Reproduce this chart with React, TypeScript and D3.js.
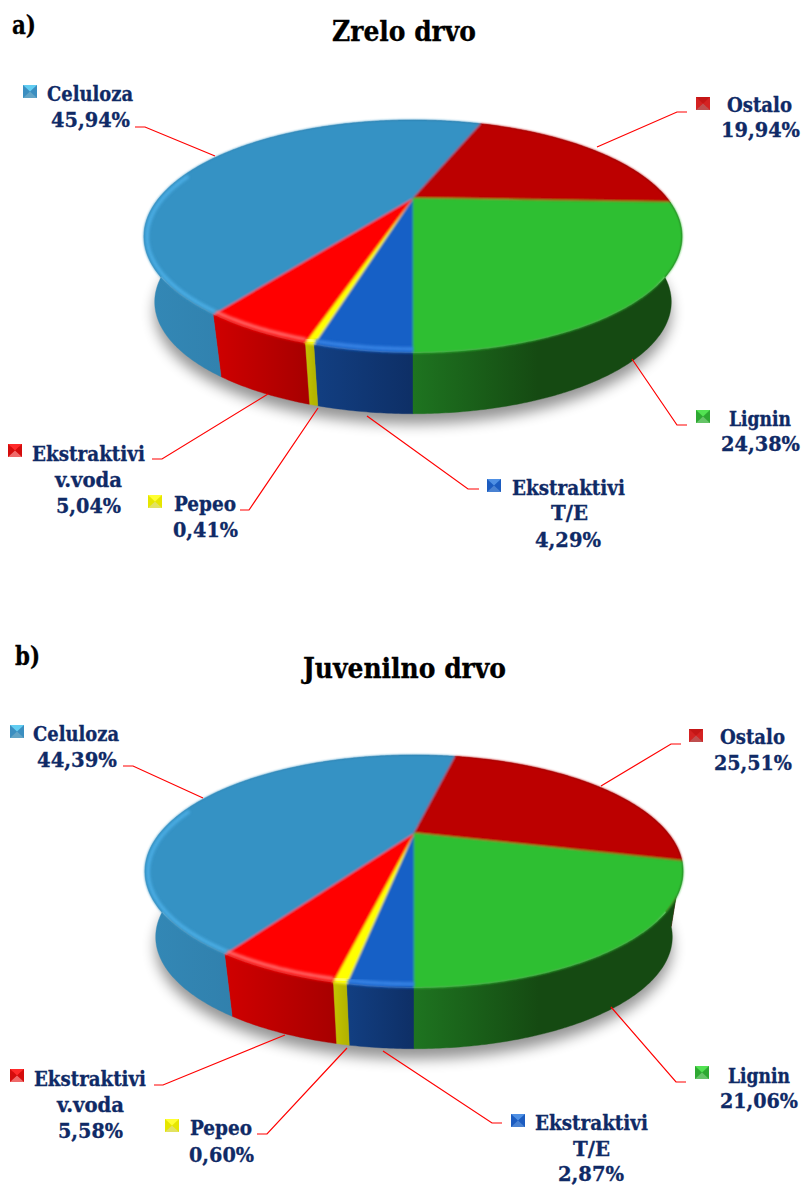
import React from "react";
import * as d3 from "d3";

// ---------- data ----------
const sliceKeys = ["te", "pepeo", "voda", "celuloza", "ostalo", "lignin"];
const sliceNames = [["Ekstraktivi", "T/E"], ["Pepeo"], ["Ekstraktivi", "v.voda"], ["Celuloza"], ["Ostalo"], ["Lignin"]];
const valuesA = [4.29, 0.41, 5.04, 45.94, 19.94, 24.38];
const valuesB = [2.87, 0.6, 5.58, 44.39, 25.51, 21.06];
const titleA = "Zrelo drvo";
const titleB = "Juvenilno drvo";

// ---------- styles ----------
const topColors = ["#1860c6", "#ffff00", "#ff0000", "#3592c4", "#bc0000", "#2fbf30"];
const wallLeft = ["#123f82", "#c4c400", "#d00000", "#3388b6", "#900000", "#1e7420"];
const wallRight = ["#0e2f66", "#b4b400", "#a80000", "#2b6d96", "#700000", "#154a12"];
const rimColors = ["#3f8cec", "#ffff90", "#ff7a7a", "#4fb2ea", "none", "none"];
const keyTop = ["#4f90e4", "#ffff30", "#ff2a2a", "#62cdf2", "#c41818", "#52e252"];
const keySide = ["#1a5cc0", "#e6e600", "#d40808", "#3a8ec0", "#d42020", "#2fa832"];
const keyBottom = ["#4a82d2", "#e2e262", "#f06a6a", "#62a4c6", "#c05050", "#66c468"];
const textColor = "#0f2a66";
const serif = "'DejaVu Serif Condensed','DejaVu Serif',serif";

// ---------- layout ----------
const proj = { K: 254, k: 103.8, p: 0.33, drop: 67, shrink: 0.04 };

type Line = [number, number, number]; // left x, baseline, width
type Lab = { key: [number, number]; lines: Line[]; leader: [number, number][] };

const layoutA: Record<string, Lab> = {
  celuloza: { key: [23, 85], lines: [[47, 101, 86], [51, 127, 79]], leader: [[135, 127], [145, 127], [215, 156]] },
  ostalo: { key: [696, 97], lines: [[727, 112, 65], [721, 137, 79]], leader: [[597, 147], [677, 112], [687, 112]] },
  lignin: { key: [696, 410], lines: [[729, 426, 62], [721, 451, 79]], leader: [[632, 359], [677, 425], [687, 425]] },
  te: { key: [487, 479], lines: [[512, 495, 113], [551, 520, 37], [535, 547, 66]], leader: [[367, 416], [468, 489], [479, 489]] },
  pepeo: { key: [148, 495], lines: [[174, 511, 62], [173, 537, 65]], leader: [[318, 408], [249, 510], [240, 510]] },
  voda: { key: [8, 444], lines: [[32, 461, 113], [55, 487, 67], [56, 513, 65]], leader: [[268, 394], [162, 459], [152, 459]] },
};
const layoutB: Record<string, Lab> = {
  celuloza: { key: [10, 725], lines: [[33, 741, 86], [37, 767, 80]], leader: [[123, 766], [133, 766], [203, 798]] },
  ostalo: { key: [689, 729], lines: [[720, 744, 65], [714, 770, 78]], leader: [[601, 786], [671, 744], [681, 744]] },
  lignin: { key: [695, 1066], lines: [[728, 1083, 62], [720, 1108, 78]], leader: [[611, 1007], [676, 1082], [686, 1082]] },
  te: { key: [511, 1114], lines: [[535, 1130, 113], [573, 1156, 37], [558, 1181, 66]], leader: [[383, 1051], [492, 1123], [502, 1123]] },
  pepeo: { key: [165, 1119], lines: [[190, 1135, 62], [189, 1162, 65]], leader: [[347, 1048], [267, 1134], [257, 1134]] },
  voda: { key: [10, 1069], lines: [[34, 1086, 112], [57, 1112, 67], [58, 1138, 65]], leader: [[285, 1035], [163, 1085], [154, 1085]] },
};

const pieGen = d3.pie<number>().sort(null).startAngle(Math.PI).endAngle(3 * Math.PI);
const lineGen = d3.line<[number, number]>().curve(d3.curveLinearClosed);

function pt(cx: number, cy: number, theta: number, t: number): [number, number] {
  const c = Math.sin(theta);
  const s = -Math.cos(theta);
  const w = 1 - proj.p * s;
  const f = 1 - proj.shrink * t;
  return [cx + (f * proj.K * c) / w, cy + proj.drop * t + (f * proj.k * s) / w];
}
function arcPts(cx: number, cy: number, a0: number, a1: number, t: number): [number, number][] {
  const n = Math.max(2, Math.ceil((a1 - a0) / 0.01));
  return d3.range(n + 1).map((i) => pt(cx, cy, a0 + ((a1 - a0) * i) / n, t));
}
const fmt = (v: number) => v.toFixed(2).replace(".", ",") + "%";

function Pie({ id, cx, cy, values, layout }: { id: string; cx: number; cy: number; values: number[]; layout: Record<string, Lab> }) {
  const slices = pieGen(values);
  const full = arcPts(cx, cy, 0, 2 * Math.PI, 0);
  const shadowPts = arcPts(cx, cy + 9, 0, 2 * Math.PI, 1.02);
  return (
    <g>
      <defs>
        <clipPath id={`${id}-top`}>
          <path d={lineGen(full)!} />
        </clipPath>
        {slices.map((s, i) => {
          const xs = arcPts(cx, cy, s.startAngle, s.endAngle, 0).map((p) => p[0]);
          const isLignin = sliceKeys[i] === "lignin";
          return (
            <linearGradient key={i} id={`${id}-wall-${i}`} gradientUnits="userSpaceOnUse" x1={isLignin ? cx : d3.min(xs)} x2={isLignin ? cx + 125 : d3.max(xs)} y1={0} y2={0}>
              <stop offset="0" stopColor={wallLeft[i]} />
              <stop offset="1" stopColor={wallRight[i]} />
            </linearGradient>
          );
        })}
      </defs>
      <path d={lineGen(shadowPts)!} fill="#000" opacity={0.42} filter="url(#shadowBlur)" />
      {slices.map((s, i) => {
        const top = arcPts(cx, cy, s.startAngle, s.endAngle, 0);
        const bot = arcPts(cx, cy, s.startAngle, s.endAngle, 1).reverse();
        const fill = `url(#${id}-wall-${i})`;
        return <path key={i} d={lineGen([...top, ...bot])!} fill={fill} stroke={fill} strokeWidth={0.4} />;
      })}
      <g filter="url(#edgeSoft)">
        {slices.map((s, i) => {
          const pts: [number, number][] = [[cx, cy], ...arcPts(cx, cy, s.startAngle, s.endAngle, 0)];
          return <path key={i} d={lineGen(pts)!} fill={topColors[i]} stroke={topColors[i]} strokeWidth={0.5} />;
        })}
      </g>
      <g clipPath={`url(#${id}-top)`}>
        {slices.map((s, i) => {
          if (rimColors[i] === "none") return null;
          // only the part of the rim that faces the viewer carries the bevel
          const a0 = s.startAngle;
          const a1 = Math.min(s.endAngle, 1.58 * Math.PI);
          if (a1 <= a0) return null;
          const ey = cy + 38;
          const rimPts = arcPts(cx, cy, a0, a1, 0).map(([x, y]) => [cx + (x - cx) * 0.988, ey + (y - ey) * 0.966] as [number, number]);
          return <path key={i} d={d3.line()(rimPts)!} fill="none" stroke={rimColors[i]} strokeWidth={3.4} opacity={0.9} filter="url(#rimBlur)" />;
        })}
      </g>
      {sliceKeys.map((name, i) => {
        const lab = layout[name];
        const [kx, ky] = lab.key;
        const w = 14;
        const h = 13;
        const mx = kx + w / 2;
        const my = ky + h / 2;
        const texts = [...sliceNames[i], fmt(values[i])];
        const tri = (a: [number, number], b: [number, number], c: [number, number]) => lineGen([a, b, c])!;
        return (
          <g key={name}>
            <polyline points={lab.leader.map((p) => p.join(",")).join(" ")} fill="none" stroke="#ff0000" strokeWidth={1.2} />
            <g filter="url(#keySoft)">
              <rect x={kx} y={ky} width={w} height={h} fill={keySide[i]} />
              <path d={tri([kx, ky], [kx + w, ky], [mx, my])} fill={keyTop[i]} />
              <path d={tri([kx, ky + h], [kx + w, ky + h], [mx, my])} fill={keyBottom[i]} />
            </g>
            {texts.map((t, j) => (
              <text
                key={j}
                x={lab.lines[j][0]}
                y={lab.lines[j][1]}
                textLength={lab.lines[j][2]}
                lengthAdjust="spacingAndGlyphs"
                fontFamily={serif}
                fontWeight="bold"
                fontSize={21}
                fill={textColor}
                stroke={textColor}
                strokeWidth={0.3}
              >
                {t}
              </text>
            ))}
          </g>
        );
      })}
    </g>
  );
}

export default function App() {
  return (
    <svg width={801} height={1185} viewBox="0 0 801 1185" style={{ position: "absolute", left: 0, top: 0, background: "#fff" }}>
      <defs>
        <filter id="shadowBlur" x="-20%" y="-20%" width="140%" height="140%">
          <feGaussianBlur stdDeviation="7" />
        </filter>
        <filter id="edgeSoft" x="-5%" y="-5%" width="110%" height="110%">
          <feGaussianBlur stdDeviation="0.9" />
        </filter>
        <filter id="rimBlur" x="-10%" y="-30%" width="120%" height="160%">
          <feGaussianBlur stdDeviation="1.6" />
        </filter>
        <filter id="keySoft" x="-20%" y="-20%" width="140%" height="140%">
          <feGaussianBlur stdDeviation="0.4" />
        </filter>
      </defs>
      <text x={12} y={34} fontFamily={serif} fontWeight="bold" fontSize={26} textLength={24} lengthAdjust="spacingAndGlyphs" fill="#000" stroke="#000" strokeWidth={0.3}>a)</text>
      <text x={332} y={41} fontFamily={serif} fontWeight="bold" fontSize={27} textLength={144} lengthAdjust="spacingAndGlyphs" fill="#000" stroke="#000" strokeWidth={0.3}>{titleA}</text>
      <text x={15} y={665} fontFamily={serif} fontWeight="bold" fontSize={26} textLength={25} lengthAdjust="spacingAndGlyphs" fill="#000" stroke="#000" strokeWidth={0.3}>b)</text>
      <text x={303} y={678} fontFamily={serif} fontWeight="bold" fontSize={27} textLength={203} lengthAdjust="spacingAndGlyphs" fill="#000" stroke="#000" strokeWidth={0.3}>{titleB}</text>
      <Pie id="a" cx={413} cy={198} values={valuesA} layout={layoutA} />
      <Pie id="b" cx={414} cy={833} values={valuesB} layout={layoutB} />
    </svg>
  );
}
